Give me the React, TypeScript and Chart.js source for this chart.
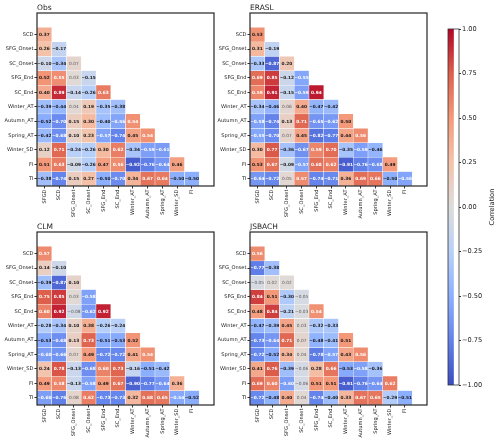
import { useEffect, useRef } from 'react';
import { Chart, registerables } from 'chart.js';

Chart.register(...registerables);

// Variables of the correlation matrix, in matrix order
const VARIABLES = [
  'SFGD', 'SCD', 'SFG_Onset', 'SC_Onset', 'SFG_End', 'SC_End',
  'Winter_AT', 'Autumn_AT', 'Spring_AT', 'Winter_SD', 'FI', 'TI',
];

// Lower-triangle rows: row k holds correlations of VARIABLES[k + 1] with VARIABLES[0..k]
const OBS: number[][] = [
  [0.37],
  [0.26, -0.17],
  [-0.10, -0.34, 0.07],
  [0.52, 0.55, 0.03, -0.15],
  [0.40, 0.89, -0.14, -0.26, 0.63],
  [-0.39, -0.44, 0.04, 0.19, -0.35, -0.38],
  [-0.52, -0.70, 0.15, 0.30, -0.40, -0.56, 0.54],
  [-0.42, -0.68, 0.10, 0.23, -0.57, -0.74, 0.45, 0.54],
  [0.12, 0.71, -0.24, -0.26, 0.30, 0.62, -0.34, -0.59, -0.61],
  [0.51, 0.63, -0.09, -0.26, 0.47, 0.56, -0.92, -0.76, -0.64, 0.46],
  [-0.38, -0.74, 0.15, 0.27, -0.50, -0.70, 0.34, 0.67, 0.64, -0.50, -0.50],
];

const ERASL: number[][] = [
  [0.53],
  [0.31, -0.19],
  [-0.33, -0.87, 0.20],
  [0.69, 0.85, -0.12, -0.55],
  [0.59, 0.91, -0.15, -0.59, 0.94],
  [-0.34, -0.46, 0.06, 0.40, -0.47, -0.42],
  [-0.58, -0.74, 0.13, 0.71, -0.65, -0.62, 0.50],
  [-0.55, -0.70, 0.07, 0.45, -0.82, -0.77, 0.44, 0.56],
  [0.30, 0.77, -0.36, -0.67, 0.59, 0.70, -0.35, -0.59, -0.46],
  [0.53, 0.67, -0.09, -0.57, 0.68, 0.62, -0.91, -0.76, -0.68, 0.49],
  [-0.64, -0.72, 0.05, 0.57, -0.74, -0.71, 0.36, 0.69, 0.66, -0.50, -0.56],
];

const CLM: number[][] = [
  [0.57],
  [0.14, -0.10],
  [-0.39, -0.87, 0.10],
  [0.75, 0.85, 0.03, -0.58],
  [0.60, 0.92, -0.08, -0.62, 0.92],
  [-0.28, -0.34, 0.10, 0.38, -0.26, -0.24],
  [-0.53, -0.68, 0.13, 0.73, -0.51, -0.53, 0.52],
  [-0.60, -0.66, 0.07, 0.49, -0.72, -0.72, 0.41, 0.54],
  [0.24, 0.78, -0.13, -0.68, 0.60, 0.73, -0.16, -0.51, -0.42],
  [0.49, 0.58, -0.13, -0.58, 0.49, 0.67, -0.90, -0.77, -0.64, 0.36],
  [-0.60, -0.76, 0.08, 0.62, -0.73, -0.73, 0.32, 0.68, 0.65, -0.54, -0.52],
];

const JSBACH: number[][] = [
  [0.56],
  [-0.77, -0.38],
  [-0.05, 0.02, 0.02],
  [0.84, 0.51, -0.30, -0.05],
  [0.48, 0.84, -0.21, -0.03, 0.54],
  [-0.47, -0.39, 0.45, 0.03, -0.32, -0.33],
  [-0.73, -0.64, 0.71, 0.07, -0.48, -0.41, 0.51],
  [-0.72, -0.52, 0.34, 0.04, -0.78, -0.57, 0.43, 0.56],
  [0.41, 0.76, -0.39, -0.06, 0.28, 0.66, -0.53, -0.58, -0.36],
  [0.69, 0.60, -0.60, -0.06, 0.51, 0.51, -0.91, -0.76, -0.64, 0.62],
  [-0.72, -0.48, 0.40, 0.04, -0.74, -0.40, 0.33, 0.67, 0.65, -0.29, -0.51],
];

const CBAR_RANGE = [-1, 1];
const CBAR_TICKS = [1, 0.75, 0.5, 0.25, 0, -0.25, -0.5, -0.75, -1];
const CBAR_LABEL = 'Correlation';

const FONT = "'DejaVu Sans', sans-serif";
const TEXT = '#222222';

// Diverging blue-white-red map (coolwarm), anchors in RGB
const CW: [number, number, number][] = [
  [59, 76, 192],
  [98, 130, 234],
  [141, 176, 254],
  [184, 208, 249],
  [221, 220, 220],
  [244, 195, 171],
  [244, 154, 123],
  [221, 96, 76],
  [180, 4, 38],
];

function coolwarm(v: number): string {
  const t = Math.min(1, Math.max(0, (v + 1) / 2)) * (CW.length - 1);
  const i = Math.min(CW.length - 2, Math.floor(t));
  const f = t - i;
  const a = CW[i];
  const b = CW[i + 1];
  const c = [0, 1, 2].map((k) => Math.round(a[k] + (b[k] - a[k]) * f));
  return `rgb(${c[0]},${c[1]},${c[2]})`;
}

function fmt(v: number): string {
  const s = Math.abs(v).toFixed(2);
  return v < 0 ? '\u2212' + s : s;
}

const PANEL_W = 220;
const PANEL_H = 222;

function Heatmap({ title, rows, left, top }: { title: string; rows: number[][]; left: number; top: number }) {
  const ref = useRef<HTMLCanvasElement>(null);

  useEffect(() => {
    if (!ref.current) return;
    const datasets = rows.map((vals, k) => {
      const r = k + 1;
      return {
        label: VARIABLES[r],
        data: VARIABLES.map((_, j) => (j < vals.length ? [r, r + 1] : null)),
        values: vals,
        backgroundColor: VARIABLES.map((_, j) => (j < vals.length ? coolwarm(vals[j]) : 'rgba(0,0,0,0)')),
        borderColor: '#ffffff',
        borderWidth: 0.5,
        borderSkipped: false,
        categoryPercentage: 1,
        barPercentage: 1,
        grouped: false,
      };
    });

    const cellText = {
      id: 'cellText',
      afterDatasetsDraw(chart: any) {
        const ctx = chart.ctx;
        ctx.save();
        ctx.textAlign = 'center';
        ctx.textBaseline = 'middle';
        chart.data.datasets.forEach((ds: any, di: number) => {
          const meta = chart.getDatasetMeta(di);
          ds.values.forEach((v: number, j: number) => {
            const el = meta.data[j];
            if (!el) return;
            const p = el.getCenterPoint();
            const a = Math.abs(v);
            const faint = a < 0.085;
            ctx.font = `${faint ? 'normal' : 'bold'} 4.3px ${FONT}`;
            ctx.fillStyle = faint ? '#5a5a5a' : a >= 0.535 ? '#ffffff' : '#1a1a1a';
            ctx.fillText(fmt(v), p.x, p.y + 0.3);
          });
        });
        ctx.restore();
      },
    };

    const frame = {
      id: 'frame',
      afterDatasetsDraw(chart: any) {
        const { ctx, chartArea: a } = chart;
        ctx.save();
        ctx.strokeStyle = '#262626';
        ctx.lineWidth = 1.2;
        ctx.strokeRect(a.left, a.top, a.right - a.left, a.bottom - a.top);
        ctx.fillStyle = TEXT;
        ctx.font = `7.5px ${FONT}`;
        ctx.textAlign = 'left';
        ctx.textBaseline = 'alphabetic';
        ctx.fillText(title, a.left, a.top - 3);
        ctx.restore();
      },
    };

    const chart = new Chart(ref.current, {
      type: 'bar',
      data: { labels: VARIABLES, datasets: datasets as any },
      options: {
        responsive: false,
        animation: false,
        devicePixelRatio: 1,
        layout: { padding: { top: 13, right: 6, left: 0, bottom: 0 } },
        plugins: {
          legend: { display: false },
          tooltip: { enabled: false },
          title: { display: false },
        },
        scales: {
          x: {
            type: 'category',
            offset: true,
            grid: { display: true, drawOnChartArea: false, drawTicks: true, tickLength: 2.5, color: '#333', offset: false },
            border: { display: false },
            ticks: {
              autoSkip: false,
              minRotation: 90,
              maxRotation: 90,
              padding: 1,
              color: TEXT,
              font: { family: FONT, size: 5.1 },
            },
            afterBuildTicks: (s: any) => {
              s.ticks = s.ticks.slice(0, VARIABLES.length - 1);
            },
            afterFit: (s: any) => {
              s.height = 36;
            },
          },
          y: {
            type: 'linear',
            reverse: true,
            min: 0,
            max: VARIABLES.length,
            grid: { display: true, drawOnChartArea: false, drawTicks: true, tickLength: 2.5, color: '#333' },
            border: { display: false },
            ticks: {
              padding: 1,
              color: TEXT,
              font: { family: FONT, size: 5.1 },
              callback: (v: any) => VARIABLES[Math.floor(Number(v))],
            },
            afterBuildTicks: (s: any) => {
              s.ticks = VARIABLES.slice(1).map((_, k) => ({ value: k + 1.5 }));
            },
            afterFit: (s: any) => {
              s.width = 37;
            },
          },
        },
      } as any,
      plugins: [cellText, frame],
    });
    return () => chart.destroy();
  }, [rows, title]);

  return (
    <canvas
      ref={ref}
      width={PANEL_W}
      height={PANEL_H}
      style={{ position: 'absolute', left, top, width: PANEL_W, height: PANEL_H }}
    />
  );
}

function ColorBar({ left, top }: { left: number; top: number }) {
  const ref = useRef<HTMLCanvasElement>(null);

  useEffect(() => {
    if (!ref.current) return;

    const outline = {
      id: 'outline',
      afterDatasetsDraw(chart: any) {
        const { ctx, chartArea: a } = chart;
        ctx.save();
        ctx.strokeStyle = '#333';
        ctx.lineWidth = 0.8;
        ctx.strokeRect(a.left, a.top, a.right - a.left, a.bottom - a.top);
        ctx.translate(72, (a.top + a.bottom) / 2);
        ctx.rotate(-Math.PI / 2);
        ctx.fillStyle = TEXT;
        ctx.font = `6.7px ${FONT}`;
        ctx.textAlign = 'center';
        ctx.textBaseline = 'middle';
        ctx.fillText(CBAR_LABEL, 0, 0);
        ctx.restore();
      },
    };

    const chart = new Chart(ref.current, {
      type: 'bar',
      data: {
        labels: [CBAR_LABEL],
        datasets: [
          {
            data: [CBAR_RANGE as any],
            backgroundColor: (c: any) => {
              const area = c.chart.chartArea;
              if (!area) return 'rgba(0,0,0,0)';
              const g = c.chart.ctx.createLinearGradient(0, area.bottom, 0, area.top);
              const n = 32;
              for (let i = 0; i <= n; i++) {
                g.addColorStop(i / n, coolwarm(CBAR_RANGE[0] + ((CBAR_RANGE[1] - CBAR_RANGE[0]) * i) / n));
              }
              return g;
            },
            borderWidth: 0,
            categoryPercentage: 1,
            barPercentage: 1,
          },
        ],
      },
      options: {
        responsive: false,
        animation: false,
        devicePixelRatio: 1,
        layout: { padding: { left: 28, top: 29, bottom: 60, right: 0 } },
        plugins: { legend: { display: false }, tooltip: { enabled: false } },
        scales: {
          x: { display: false, offset: false },
          y: {
            position: 'right',
            min: CBAR_RANGE[0],
            max: CBAR_RANGE[1],
            grid: { display: true, drawOnChartArea: false, drawTicks: true, tickLength: 2, color: '#333' },
            border: { display: false },
            ticks: {
              padding: 1,
              color: TEXT,
              font: { family: FONT, size: 6.6 },
              callback: (v: any) => fmt(Number(v)),
            },
            afterBuildTicks: (s: any) => {
              s.ticks = CBAR_TICKS.map((value) => ({ value }));
            },
            afterFit: (s: any) => {
              s.width = 41;
            },
          },
        },
      } as any,
      plugins: [outline],
    });
    return () => chart.destroy();
  }, []);

  return (
    <canvas
      ref={ref}
      width={80}
      height={445}
      style={{ position: 'absolute', left, top, width: 80, height: 445 }}
    />
  );
}

export default function App() {
  return (
    <div style={{ position: 'absolute', left: 0, top: 0, width: 500, height: 445, background: '#ffffff', overflow: 'hidden' }}>
      <Heatmap title="Obs" rows={OBS} left={0} top={0} />
      <Heatmap title="ERASL" rows={ERASL} left={213} top={0} />
      <Heatmap title="CLM" rows={CLM} left={0} top={219} />
      <Heatmap title="JSBACH" rows={JSBACH} left={213} top={219} />
      <ColorBar left={420} top={0} />
    </div>
  );
}
